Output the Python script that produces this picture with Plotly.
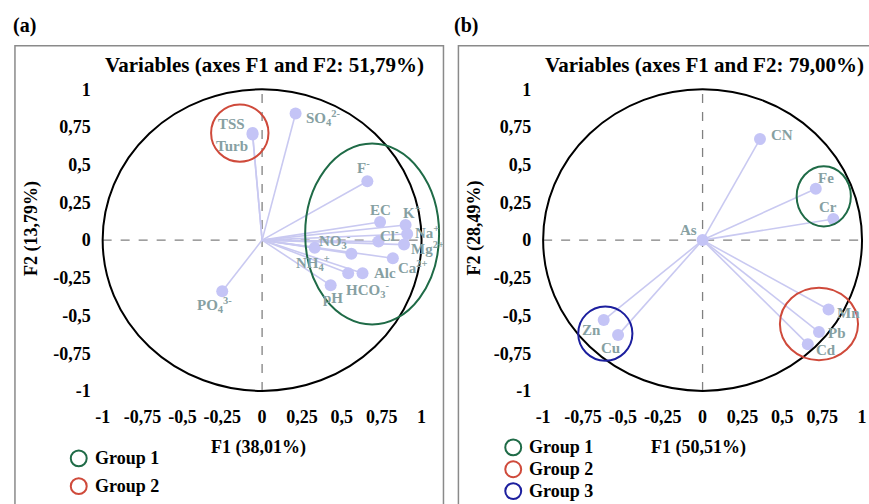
import plotly.graph_objects as go

# ---- data: variable loadings on F1 / F2 ----
vars_a = ["TSS", "Turb", "SO<sub>4</sub><sup>2-</sup>", "F<sup>-</sup>", "EC", "K<sup>+</sup>",
          "Na<sup>+</sup>", "Cl<sup>-</sup>", "Mg<sup>2+</sup>", "Ca<sup>2+</sup>",
          "NO<sub>3</sub><sup>-</sup>", "NH<sub>4</sub><sup>+</sup>", "Alc",
          "HCO<sub>3</sub><sup>-</sup>", "pH", "PO<sub>4</sub><sup>3-</sup>"]
f1_a = [-0.06, -0.06, 0.21, 0.66, 0.74, 0.90, 0.91, 0.73, 0.89, 0.82, 0.56, 0.33, 0.63, 0.54, 0.43, -0.25]
f2_a = [0.71, 0.70, 0.84, 0.39, 0.12, 0.10, 0.04, -0.01, -0.03, -0.12, -0.09, -0.05, -0.22, -0.22, -0.30, -0.34]

vars_b = ["As", "CN", "Fe", "Cr", "Mn", "Pb", "Cd", "Zn", "Cu"]
f1_b = [0.00, 0.36, 0.71, 0.82, 0.79, 0.73, 0.66, -0.62, -0.53]
f2_b = [0.00, 0.67, 0.34, 0.14, -0.46, -0.61, -0.69, -0.53, -0.63]

tick_vals = [-1, -0.75, -0.5, -0.25, 0, 0.25, 0.5, 0.75, 1]
tick_text = ["-1", "-0,75", "-0,5", "-0,25", "0", "0,25", "0,5", "0,75", "1"]

titles = ["Variables (axes F1 and F2: 51,79%)", "Variables (axes F1 and F2: 79,00%)"]
x_titles = ["F1 (38,01%)", "F1 (50,51%)"]
y_titles = ["F2 (13,79%)", "F2 (28,49%)"]

# group outlines: (center F1, center F2, half-width, half-height, colour)
groups_a = [(0.69, 0.04, 0.42, 0.60, "#1f6b47"), (-0.14, 0.71, 0.18, 0.19, "#cf4a3b")]
groups_b = [(0.76, 0.29, 0.17, 0.20, "#1f6b47"), (0.73, -0.556, 0.245, 0.24, "#cf4a3b"),
            (-0.61, -0.62, 0.17, 0.18, "#1c1f9e")]
legend_a = [("Group 1", "#1f6b47"), ("Group 2", "#cf4a3b")]
legend_b = [("Group 1", "#1f6b47"), ("Group 2", "#cf4a3b"), ("Group 3", "#1c1f9e")]

# label placement (pixel shifts, anchor)
lab_a = {
    "TSS": (-21, 9, "center"), "Turb": (-21, -11, "center"),
    "SO<sub>4</sub><sup>2-</sup>": (8, -5, "left"), "F<sup>-</sup>": (-4, 14, "center"),
    "EC": (0, 12, "center"), "K<sup>+</sup>": (6, 13, "center"), "Na<sup>+</sup>": (6, 2, "left"),
    "Cl<sup>-</sup>": (11, 7, "center"), "Mg<sup>2+</sup>": (5, -3, "left"),
    "Ca<sup>2+</sup>": (3, -9, "left"), "NO<sub>3</sub><sup>-</sup>": (-16, 13, "center"),
    "NH<sub>4</sub><sup>+</sup>": (-2, -15, "center"), "Alc": (9, 0, "left"),
    "HCO<sub>3</sub><sup>-</sup>": (-4, -17, "left"), "pH": (2, -13, "center"),
    "PO<sub>4</sub><sup>3-</sup>": (-8, -14, "center"),
}
lab_b = {
    "As": (-14, 10, "center"), "CN": (9, 4, "left"), "Fe": (10, 11, "center"),
    "Cr": (-5, 12, "center"), "Mn": (6, -4, "left"), "Pb": (7, -1, "left"),
    "Cd": (6, -6, "left"), "Zn": (-12, -10, "center"), "Cu": (-8, -13, "center"),
}

W, H = 869, 504
SERIF = "Times New Roman, Liberation Serif, serif"
LAB = "#86a0a2"
VEC = "#c9c9f1"
PT = "#c4c4f6"


def px(x):
    return x / W


def py(y):
    return 1 - y / H


# panel geometry in pixels: origin and pixels per unit
panels = [
    dict(ox=260, oy=240, ux=160, uy=152, xl=95, xr=440, frame=(12, 442)),
    dict(ox=702, oy=240, ux=160, uy=152, xl=537, xr=869, frame=(457, 880)),
]
yt, yb = 80, 400

fig = go.Figure()
annotations = []
shapes = []

datasets = [(vars_a, f1_a, f2_a, lab_a, groups_a, legend_a),
            (vars_b, f1_b, f2_b, lab_b, groups_b, legend_b)]

for i, (p, (names, f1, f2, labs, groups, leg)) in enumerate(zip(panels, datasets)):
    xa = "x" if i == 0 else "x2"
    ya = "y" if i == 0 else "y2"
    axis_kw = dict(showgrid=False, zeroline=False, showline=False, ticks="",
                   tickvals=tick_vals, ticktext=tick_text,
                   tickfont=dict(family=SERIF, size=18, color="black", weight="bold"))
    xr = [(p["xl"] - p["ox"]) / p["ux"], (p["xr"] - p["ox"]) / p["ux"]]
    yr = [(p["oy"] - yb) / p["uy"], (p["oy"] - yt) / p["uy"]]
    fig.update_layout(**{
        ("xaxis" if i == 0 else "xaxis2"): dict(domain=[px(p["xl"]), px(p["xr"])], range=xr,
                                                 anchor=ya, ticklabelstandoff=5, **axis_kw),
        ("yaxis" if i == 0 else "yaxis2"): dict(domain=[py(yb), py(yt)], range=yr,
                                                 anchor=xa, ticklabelstandoff=6, **axis_kw),
    })

    # vectors from the origin
    lx, ly = [], []
    for a, b in zip(f1, f2):
        lx += [0, a, None]
        ly += [0, b, None]
    fig.add_trace(go.Scatter(x=lx, y=ly, mode="lines", line=dict(color=VEC, width=1.6),
                             xaxis=xa, yaxis=ya, showlegend=False, hoverinfo="skip"))
    fig.add_trace(go.Scatter(x=f1, y=f2, mode="markers", text=names,
                             marker=dict(color=PT, size=12), xaxis=xa, yaxis=ya,
                             showlegend=False))

    # correlation circle and dashed axes
    shapes.append(dict(type="circle", xref=xa, yref=ya, x0=-1, x1=1, y0=-1, y1=1,
                       line=dict(color="black", width=2), layer="above"))
    shapes.append(dict(type="line", xref=xa, yref=ya, x0=-1, x1=1, y0=0, y1=0,
                       line=dict(color="#808080", width=1.3, dash="dash"), layer="below"))
    shapes.append(dict(type="line", xref=xa, yref=ya, x0=0, x1=0, y0=-1, y1=1,
                       line=dict(color="#808080", width=1.3, dash="dash"), layer="below"))

    # group outlines
    for cx, cy, rx, ry, col in groups:
        shapes.append(dict(type="circle", xref=xa, yref=ya, x0=cx - rx, x1=cx + rx,
                           y0=cy - ry, y1=cy + ry, line=dict(color=col, width=2), layer="above"))

    # variable labels
    for n, a, b in zip(names, f1, f2):
        dx, dy, anc = labs[n]
        annotations.append(dict(x=a, y=b, xref=xa, yref=ya, text=n, showarrow=False,
                                xshift=dx, yshift=dy, xanchor=anc, yanchor="middle",
                                font=dict(family=SERIF, size=15, color=LAB, weight="bold")))

    # panel frame
    fx0, fx1 = p["frame"]
    shapes.append(dict(type="rect", xref="paper", yref="paper", x0=px(fx0), x1=px(fx1),
                       y0=-0.05, y1=py(44), line=dict(color="#8a8a8a", width=1.5)))

    # titles
    annotations.append(dict(x=px(p["ox"] + 2), y=py(64), xref="paper", yref="paper",
                            text=titles[i], showarrow=False, xanchor="center", yanchor="middle",
                            font=dict(family=SERIF, size=21, color="black", weight="bold")))
    annotations.append(dict(x=px(p["ox"] - 4), y=py(449), xref="paper", yref="paper",
                            text=x_titles[i], showarrow=False, xanchor="center", yanchor="middle",
                            font=dict(family=SERIF, size=18, color="black", weight="bold")))
    annotations.append(dict(x=px(fx0 + 16), y=py(228), xref="paper", yref="paper",
                            text=y_titles[i], showarrow=False, textangle=-90,
                            xanchor="center", yanchor="middle",
                            font=dict(family=SERIF, size=18, color="black", weight="bold")))

    # legend of group outlines
    if i == 0:
        lx0, ly0, step = 76, 460, 28
    else:
        lx0, ly0, step = 512, 449, 22
    for k, (name, col) in enumerate(leg):
        cyp = ly0 + k * step
        shapes.append(dict(type="circle", xref="paper", yref="paper",
                           x0=px(lx0 - 8), x1=px(lx0 + 8), y0=py(cyp + 8), y1=py(cyp - 8),
                           line=dict(color=col, width=2)))
        annotations.append(dict(x=px(lx0 + 14), y=py(cyp), xref="paper", yref="paper",
                                text=name, showarrow=False, xanchor="left", yanchor="middle",
                                font=dict(family=SERIF, size=18, color="black", weight="bold")))

# panel letters
for letter, x in [("(a)", 22), ("(b)", 465)]:
    annotations.append(dict(x=px(x), y=py(24), xref="paper", yref="paper", text=letter,
                            showarrow=False, xanchor="center", yanchor="middle",
                            font=dict(family=SERIF, size=20, color="black", weight="bold")))

fig.update_layout(width=W, height=H, margin=dict(l=0, r=0, t=0, b=0),
                  paper_bgcolor="white", plot_bgcolor="white",
                  shapes=shapes, annotations=annotations, showlegend=False)

fig.write_html("out.html")
